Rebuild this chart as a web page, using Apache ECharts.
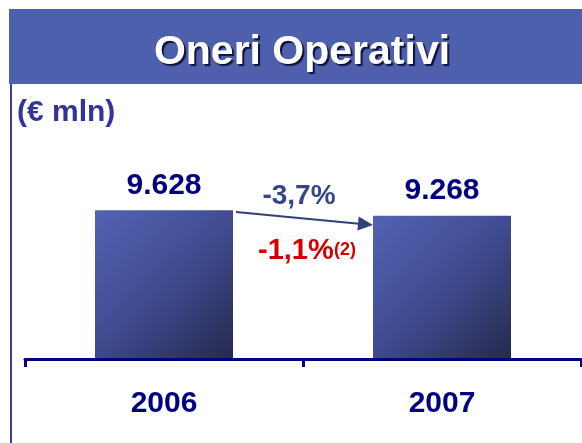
<!DOCTYPE html>
<html>
<head>
<meta charset="utf-8">
<script src="https://cdn.jsdelivr.net/npm/echarts@6/dist/echarts.min.js"></script>
<style>html,body{margin:0;padding:0;background:#fff}#c{width:582px;height:443px}</style>
</head>
<body>
<div id="c"></div>
<script>
var categories = ['2006', '2007'];
var values = [9628, 9268];
var valueLabels = ['9.628', '9.268'];
var titleText = 'Oneri Operativi';
var unitText = '(€ mln)';
var changeTotal = '-3,7%';
var changeLike = '-1,1%';
var changeNote = '(2)';

var FONT = '"Liberation Sans", Arial, sans-serif';
var chart = echarts.init(document.getElementById('c'), null, {renderer: 'canvas'});
var barGrad = new echarts.graphic.LinearGradient(0, 0, 1, 1, [
  {offset: 0, color: '#5363b3'},
  {offset: 0.5, color: '#404b90'},
  {offset: 1, color: '#252a4d'}
]);
chart.setOption({
  backgroundColor: '#ffffff',
  animation: false,
  grid: {left: 25, right: 1, top: 50, bottom: 84},
  xAxis: {
    type: 'category',
    data: categories,
    z: 5,
    axisLine: {lineStyle: {color: '#000080', width: 3}},
    axisTick: {show: true, length: 8, lineStyle: {color: '#000080', width: 3}},
    axisLabel: {color: '#000080', fontFamily: FONT, fontWeight: 'bold', fontSize: 30, lineHeight: 30, margin: 30}
  },
  yAxis: {type: 'value', min: 0, max: 20000, show: false},
  series: [{
    type: 'bar',
    data: values,
    barWidth: 138,
    itemStyle: {color: barGrad},
    label: {
      show: true, position: 'top', distance: 10,
      formatter: function (p) { return valueLabels[p.dataIndex]; },
      color: '#000080', fontFamily: FONT, fontWeight: 'bold', fontSize: 30, lineHeight: 30
    }
  }],
  graphic: [
    {type: 'rect', z: 10, shape: {x: 9, y: 9, width: 573, height: 75}, style: {fill: '#4e60ad'}},
    {type: 'text', z: 11, style: {x: 302, y: 52.5, text: titleText, align: 'center', verticalAlign: 'middle',
      font: 'bold 41px ' + FONT, fill: '#ffffff', textShadowColor: '#10103a', textShadowOffsetX: 2, textShadowOffsetY: 2, textShadowBlur: 1}},
    {type: 'line', z: 10, shape: {x1: 11, y1: 84, x2: 11, y2: 443}, style: {stroke: '#3c3c9c', lineWidth: 2}},
    {type: 'text', z: 11, style: {x: 17, y: 113, text: unitText, align: 'left', verticalAlign: 'middle',
      font: 'bold 30px ' + FONT, fill: '#333399'}},
    {type: 'line', z: 11, shape: {x1: 236, y1: 212, x2: 359, y2: 223.7}, style: {stroke: '#34407a', lineWidth: 2}},
    {type: 'polygon', z: 11, shape: {points: [[373, 225], [357.4, 230.6], [358.7, 216.6]]}, style: {fill: '#34407a'}},
    {type: 'text', z: 11, style: {x: 299, y: 196.5, text: changeTotal, align: 'center', verticalAlign: 'middle',
      font: 'bold 28px ' + FONT, fill: '#364785'}},
    {type: 'text', z: 11, style: {x: 258, y: 251, text: changeLike, align: 'left', verticalAlign: 'middle',
      font: 'bold 29px ' + FONT, fill: '#d40000'}},
    {type: 'text', z: 11, style: {x: 334, y: 250.5, text: changeNote, align: 'left', verticalAlign: 'middle',
      font: 'bold 18px ' + FONT, fill: '#d40000'}}
  ]
});
</script>
</body>
</html>
